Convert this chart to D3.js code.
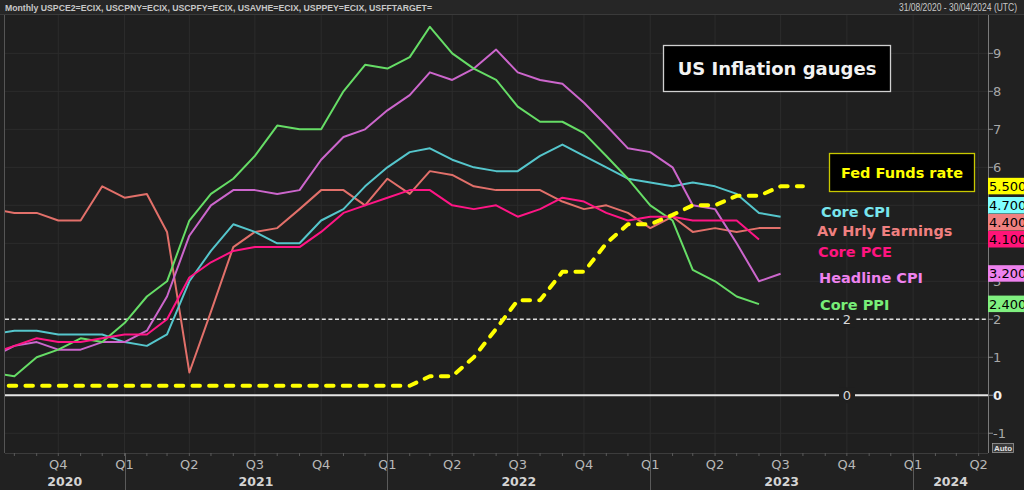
<!DOCTYPE html>
<html><head><meta charset="utf-8">
<script src="https://cdn.jsdelivr.net/npm/d3@7"></script>
<style>html,body{margin:0;padding:0;background:#212121;overflow:hidden}svg{display:block}</style>
</head><body><svg id="c" width="1024" height="490"></svg>
<script>
// ---- data (monthly, YoY %) ----
const months = ["2020-07","2020-08","2020-09","2020-10","2020-11","2020-12",
  "2021-01","2021-02","2021-03","2021-04","2021-05","2021-06","2021-07","2021-08","2021-09","2021-10","2021-11","2021-12",
  "2022-01","2022-02","2022-03","2022-04","2022-05","2022-06","2022-07","2022-08","2022-09","2022-10","2022-11","2022-12",
  "2023-01","2023-02","2023-03","2023-04","2023-05","2023-06","2023-07","2023-08"];
const coreCPI = [1.6,1.7,1.7,1.6,1.6,1.6, 1.4,1.3,1.6,3.0,3.8,4.5,4.3,4.0,4.0,4.6,4.9,5.5, 6.0,6.4,6.5,6.2,6.0,5.9,5.9,6.3,6.6,6.3,6.0,5.7, 5.6,5.5,5.6,5.5,5.3,4.8,4.7];
const avHrlyEarnings = [4.9,4.8,4.8,4.6,4.6,5.5, 5.2,5.3,4.3,0.6,2.2,3.9,4.3,4.4,4.9,5.4,5.4,5.0, 5.7,5.3,5.9,5.8,5.5,5.4,5.4,5.4,5.1,4.9,5.0,4.8, 4.4,4.7,4.3,4.4,4.3,4.4,4.4];
const corePCE = [1.1,1.3,1.5,1.4,1.4,1.5, 1.6,1.6,2.0,3.1,3.5,3.8,3.9,3.9,3.9,4.3,4.8,5.0, 5.2,5.4,5.4,5.0,4.9,5.0,4.7,4.9,5.2,5.1,4.8,4.6, 4.7,4.7,4.6,4.6,4.6,4.1];
const headlineCPI = [1.0,1.3,1.4,1.2,1.2,1.4, 1.4,1.7,2.6,4.2,5.0,5.4,5.4,5.3,5.4,6.2,6.8,7.0, 7.5,7.9,8.5,8.3,8.6,9.1,8.5,8.3,8.2,7.7,7.1,6.5, 6.4,6.0,5.0,4.9,4.0,3.0,3.2];
const corePPI = [0.6,0.5,1.0,1.2,1.5,1.4, 1.9,2.6,3.0,4.6,5.3,5.7,6.3,7.1,7.0,7.0,8.0,8.7, 8.6,8.9,9.7,9.0,8.6,8.3,7.6,7.2,7.2,6.9,6.3,5.7, 5.0,4.6,3.3,3.0,2.6,2.4];
const fedFunds = [0.25,0.25,0.25,0.25,0.25,0.25, 0.25,0.25,0.25,0.25,0.25,0.25,0.25,0.25,0.25,0.25,0.25,0.25,
  0.25,0.25,0.5,0.5,1.0,1.75,2.5,2.5,3.25,3.25,4.0,4.5, 4.5,4.75,5.0,5.0,5.25,5.25,5.5,5.5];
const yTicks = [-1,0,1,2,3,4,5,6,7,8,9];
const years = [2020,2021,2022,2023,2024];
const quarterNames = ["Q1","Q2","Q3","Q4"];
const headerLeft = "Monthly USPCE2=ECIX, USCPNY=ECIX, USCPFY=ECIX, USAVHE=ECIX, USPPEY=ECIX, USFFTARGET=";
const headerRight = "31/08/2020 - 30/04/2024 (UTC)";
const titleText = "US Inflation gauges";
const fedText = "Fed Funds rate";

const series = [
  {name:"Av Hrly Earnings", values: avHrlyEarnings, line:"#e2706a", label:"#f08080", tag:"#f08080", ly:231, lx:817},
  {name:"Core CPI", values: coreCPI, line:"#55c6cc", label:"#78e6ee", tag:"#80ffff", ly:212, lx:821},
  {name:"Headline CPI", values: headlineCPI, line:"#cc66cc", label:"#ee82ee", tag:"#ee82ee", ly:278, lx:819},
  {name:"Core PPI", values: corePPI, line:"#66dd66", label:"#78ee78", tag:"#80f080", ly:305, lx:820},
  {name:"Core PCE", values: corePCE, line:"#ff1585", label:"#ff1480", tag:"#ff1478", ly:251.5, lx:818}
];
const fed = {values: fedFunds, line:"#ffff00", tag:"#ffff00"};

// ---- layout ----
const svg = d3.select("#c");
const P = {l:5, r:988, t:15, b:453};
const parse = d3.timeParse("%Y-%m");
const dates = months.map(parse);
const x = d3.scaleTime().domain([new Date(2020,6,19), new Date(2024,3,14)]).range([P.l, P.r]);
const y = d3.scaleLinear().domain([-1.52, 10.01]).range([P.b, P.t]);
const FONT = "'DejaVu Sans', Verdana, sans-serif";

svg.append("rect").attr("width",1024).attr("height",490).attr("fill","#212121");
// header band
svg.append("rect").attr("x",0).attr("y",0).attr("width",1024).attr("height",14).attr("fill","#262626");
svg.append("text").attr("x",5).attr("y",10.5).attr("fill","#c8c8c8").attr("font-family","'Liberation Sans', Arial, sans-serif")
  .attr("font-size",9.5).attr("font-weight","bold").attr("textLength",427).attr("lengthAdjust","spacingAndGlyphs").text(headerLeft);
svg.append("text").attr("x",1017).attr("y",10.5).attr("text-anchor","end").attr("fill","#c8c8c8").attr("font-family","'Liberation Sans', Arial, sans-serif")
  .attr("font-size",10).attr("textLength",118).attr("lengthAdjust","spacingAndGlyphs").text(headerRight);
svg.append("line").attr("x1",0).attr("x2",1024).attr("y1",14.5).attr("y2",14.5).attr("stroke","#3a3a3a");

// plot background
svg.append("rect").attr("x",P.l).attr("y",P.t).attr("width",P.r-P.l).attr("height",P.b-P.t).attr("fill","#1f1f1f");

// gridlines
const quarters = d3.timeMonth.every(3).range(x.domain()[0], x.domain()[1]);
svg.append("g").selectAll("line").data(quarters).join("line")
  .attr("x1",d=>x(d)).attr("x2",d=>x(d)).attr("y1",P.t).attr("y2",P.b)
  .attr("stroke","#2c2c2c").attr("stroke-width",1);
svg.append("g").selectAll("line").data(yTicks).join("line")
  .attr("x1",P.l).attr("x2",P.r).attr("y1",d=>y(d)).attr("y2",d=>y(d))
  .attr("stroke","#2c2c2c").attr("stroke-width",1);

// plot frame
svg.append("line").attr("x1",P.l-0.5).attr("x2",P.l-0.5).attr("y1",P.t).attr("y2",P.b).attr("stroke","#555");
svg.append("line").attr("x1",P.l).attr("x2",P.r).attr("y1",P.b+0.5).attr("y2",P.b+0.5).attr("stroke","#3c3c3c");

// reference lines at 2 (dashed) and 0 (solid)
const refX = 847;
svg.append("line").attr("x1",P.l).attr("x2",P.r).attr("y1",y(2)).attr("y2",y(2))
  .attr("stroke","#dedede").attr("stroke-width",1.6).attr("stroke-dasharray","4,2.6");
svg.append("line").attr("x1",P.l).attr("x2",P.r).attr("y1",y(0)).attr("y2",y(0))
  .attr("stroke","#e6e6e6").attr("stroke-width",1.8);
[[2,"2"],[0,"0"]].forEach(([v,t])=>{
  svg.append("rect").attr("x",refX-8).attr("y",y(v)-8).attr("width",16).attr("height",16).attr("fill","#1f1f1f");
  svg.append("text").attr("x",refX).attr("y",y(v)+4.7).attr("text-anchor","middle").attr("fill","#d8d8d8")
    .attr("font-family",FONT).attr("font-size",13).text(t);
});

// clip
svg.append("clipPath").attr("id","clip").append("rect").attr("x",P.l).attr("y",P.t).attr("width",P.r-P.l).attr("height",P.b-P.t);
const g = svg.append("g").attr("clip-path","url(#clip)");

const lineGen = d3.line().x((d,i)=>x(dates[i])).y(d=>y(d));
series.forEach(s=>{
  g.append("path").attr("d",lineGen(s.values)).attr("fill","none").attr("stroke",s.line)
    .attr("stroke-width",2).attr("stroke-linejoin","round");
});
g.append("path").attr("d",lineGen(fed.values)).attr("fill","none").attr("stroke",fed.line)
  .attr("stroke-width",4).attr("stroke-linecap","round").attr("stroke-dasharray","7.5,9.2").attr("stroke-linejoin","round");

// series labels
series.forEach(s=>{
  svg.append("text").attr("x",s.lx).attr("y",s.ly+5.3).attr("fill",s.label)
    .attr("font-family",FONT).attr("font-weight","bold").attr("font-size",14.5).text(s.name);
});

// title box
svg.append("rect").attr("x",663.5).attr("y",45.5).attr("width",227).attr("height",46).attr("fill","#000").attr("stroke","#d0d0d0").attr("stroke-width",1.3);
svg.append("text").attr("x",777).attr("y",74.5).attr("text-anchor","middle").attr("fill","#f2f2f2")
  .attr("font-family",FONT).attr("font-weight","bold").attr("font-size",18).text(titleText);
// fed box
svg.append("rect").attr("x",829.5).attr("y",153.5).attr("width",145).attr("height",38).attr("fill","#000").attr("stroke","#c8c800").attr("stroke-width",1.3);
svg.append("text").attr("x",902).attr("y",178).attr("text-anchor","middle").attr("fill","#ffff00")
  .attr("font-family",FONT).attr("font-weight","bold").attr("font-size",14.5).text(fedText);

// value tags (stacked upward to avoid overlap)
const tagItems = series.map(s=>({v:s.values[s.values.length-1], c:s.tag}))
  .concat([{v:fed.values[fed.values.length-1], c:fed.tag}])
  .sort((a,b)=>a.v-b.v);
const TH = 17;
let prev = Infinity;
tagItems.forEach(t=>{ t.cy = Math.min(y(t.v), prev - TH); prev = t.cy; });

// right axis (labels hidden where a value tag covers them)
svg.append("line").attr("x1",P.r+0.5).attr("x2",P.r+0.5).attr("y1",P.t).attr("y2",P.b).attr("stroke","#7a7a7a");
const visibleTicks = yTicks.filter(v=>!tagItems.some(t=>Math.abs(t.cy-y(v))<7));
const ya = svg.append("g");
ya.selectAll("line").data(yTicks).join("line").attr("x1",P.r).attr("x2",P.r+5).attr("y1",d=>y(d)).attr("y2",d=>y(d)).attr("stroke","#8a8a8a");
ya.selectAll("text").data(visibleTicks).join("text").attr("x",P.r+5).attr("y",d=>y(d)+4.7)
  .attr("fill",d=>d===0?"#f0f0f0":"#a8a8a8").attr("font-weight",d=>d===0?"bold":"normal")
  .attr("font-family",FONT).attr("font-size",13).text(d=>d);

tagItems.forEach(t=>{
  svg.append("rect").attr("x",P.r).attr("y",t.cy-TH/2).attr("width",40).attr("height",TH-0.5).attr("fill",t.c);
  svg.append("text").attr("x",P.r+1).attr("y",t.cy+4.7).attr("fill","#000").attr("font-family",FONT).attr("font-size",13)
    .text(d3.format(".3f")(t.v));
});

// bottom axis
const monthTicks = d3.timeMonth.every(1).range(x.domain()[0], x.domain()[1]);
svg.append("g").selectAll("line").data(monthTicks).join("line")
  .attr("x1",d=>x(d)).attr("x2",d=>x(d)).attr("y1",P.b).attr("y2",P.b+3).attr("stroke","#5a5a5a");
svg.append("g").selectAll("text").data(quarters).join("text")
  .attr("x",d=>x(d)).attr("y",469).attr("text-anchor","middle").attr("fill","#b8b8b8")
  .attr("font-family",FONT).attr("font-size",13).text(d=>quarterNames[Math.floor(d.getMonth()/3)]);
const yearStarts = years.slice(1).map(yr=>new Date(yr,0,1));
svg.append("g").selectAll("line").data(yearStarts).join("line")
  .attr("x1",d=>Math.round(x(d))+0.5).attr("x2",d=>Math.round(x(d))+0.5).attr("y1",P.b).attr("y2",490).attr("stroke","#5a5a5a");
svg.append("g").selectAll("text").data(years).join("text")
  .attr("x",yr=>{const a=Math.max(x(new Date(yr,0,1)),P.l), b=Math.min(x(new Date(yr+1,0,1)),P.r); return (a+b)/2;})
  .attr("y",486).attr("text-anchor","middle").attr("fill","#d4d4d4").attr("font-weight","bold")
  .attr("font-family",FONT).attr("font-size",12.5).text(d=>d);

// Auto box
svg.append("rect").attr("x",992.5).attr("y",443.5).attr("width",21).attr("height",9).attr("fill","#3a3a3a").attr("stroke","#9a9a9a").attr("stroke-width",0.8);
svg.append("text").attr("x",1003).attr("y",451).attr("text-anchor","middle").attr("fill","#e0e0e0")
  .attr("font-family","'Liberation Sans', Arial, sans-serif").attr("font-size",8).attr("font-weight","bold").text("Auto");
</script></body></html>
